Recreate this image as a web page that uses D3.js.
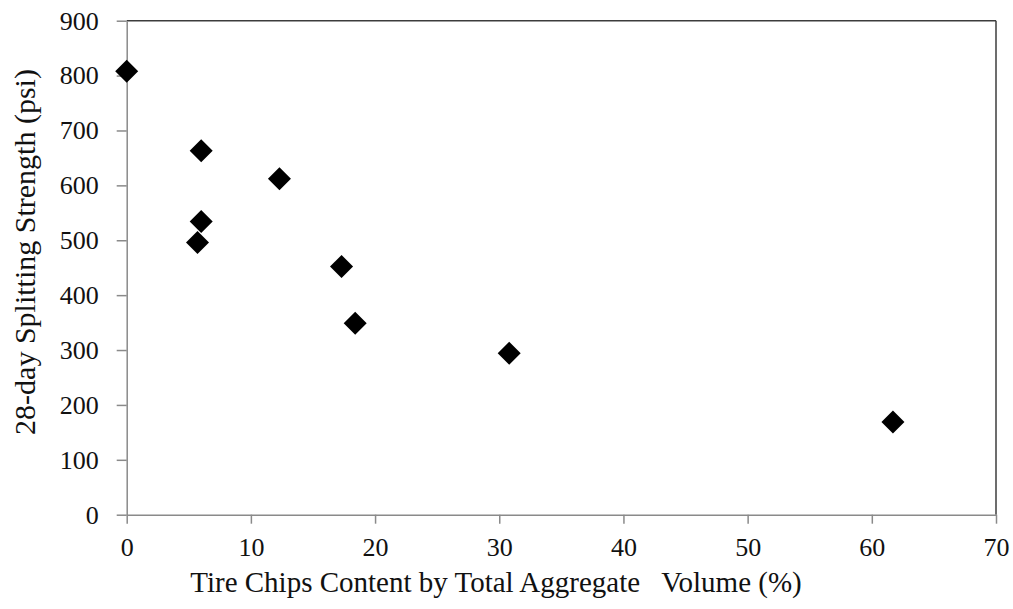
<!DOCTYPE html>
<html>
<head>
<meta charset="utf-8">
<script src="https://cdn.jsdelivr.net/npm/d3@7"></script>
<style>
  body { margin: 0; background: #fff; }
  svg text { font-family: "Liberation Serif", "Times New Roman", serif; fill: #111; }
</style>
</head>
<body>
<script>
// tire chip content (%) vs 28-day splitting strength (psi)
var chipContent = [0, 6.0, 12.3, 6.0, 5.7, 17.3, 18.4, 30.8, 61.7]
var splitStrength = [808, 663, 612, 534, 496, 452, 349, 294, 169]

var xTicks = [0, 10, 20, 30, 40, 50, 60, 70]
var yTicks = [0, 100, 200, 300, 400, 500, 600, 700, 800, 900]

var xTitle = "Tire Chips Content by Total Aggregate   Volume (%)"
var yTitle = "28-day Splitting Strength (psi)"

var screen = {width: 1013, height: 609}
var margins = {top: 20.7, bottom: 94.3, left: 126.7, right: 17}

var width = screen.width - margins.left - margins.right
var height = screen.height - margins.top - margins.bottom

var svg = d3.select("body")
    .append("svg")
    .attr("width", screen.width)
    .attr("height", screen.height)

var xScale = d3.scaleLinear()
    .domain([0, 70])
    .range([0, width])

var yScale = d3.scaleLinear()
    .domain([0, 900])
    .range([height, 0])

var plot = svg.append("g")
    .attr("transform", "translate(" + margins.left + "," + margins.top + ")")

// top and right border, a bit darker than the axes
plot.append("line")
    .attr("x1", 0).attr("x2", width)
    .attr("y1", 0).attr("y2", 0)
    .attr("stroke", "#3c3c3c")
    .attr("stroke-width", 1.5)
plot.append("line")
    .attr("x1", width).attr("x2", width)
    .attr("y1", 0).attr("y2", height)
    .attr("stroke", "#3c3c3c")
    .attr("stroke-width", 1.5)

var xAxis = d3.axisBottom(xScale)
    .tickValues(xTicks)
    .tickSizeInner(9)
    .tickSizeOuter(0)
    .tickPadding(14)

var yAxis = d3.axisLeft(yScale)
    .tickValues(yTicks)
    .tickSizeInner(10)
    .tickSizeOuter(0)
    .tickPadding(18)

var gx = plot.append("g")
    .attr("transform", "translate(0," + height + ")")
    .call(xAxis)

var gy = plot.append("g")
    .call(yAxis)

;[gx, gy].forEach(function(g)
{
    g.select(".domain").attr("stroke", "#8a8a8a").attr("stroke-width", 1.5)
    g.selectAll(".tick line").attr("stroke", "#8a8a8a").attr("stroke-width", 1.5)
    g.selectAll(".tick text")
        .attr("font-family", "Liberation Serif, Times New Roman, serif")
        .attr("font-size", 26)
        .attr("fill", "#111")
})

// diamonds
var diamond = d3.symbol().type(d3.symbolSquare).size(265)

plot.selectAll("path.pt")
    .data(chipContent)
    .enter()
    .append("path")
    .attr("class", "pt")
    .attr("d", diamond)
    .attr("transform", function(d, i)
    {
        return "translate(" + xScale(d) + "," + yScale(splitStrength[i]) + ") rotate(45)"
    })
    .attr("fill", "#000")

// axis titles
svg.append("text")
    .attr("x", 496)
    .attr("y", 592)
    .attr("text-anchor", "middle")
    .attr("font-size", 29)
    .style("white-space", "pre")
    .text(xTitle)

svg.append("text")
    .attr("transform", "translate(35,252) rotate(-90)")
    .attr("text-anchor", "middle")
    .attr("font-size", 30)
    .text(yTitle)
</script>
</body>
</html>
